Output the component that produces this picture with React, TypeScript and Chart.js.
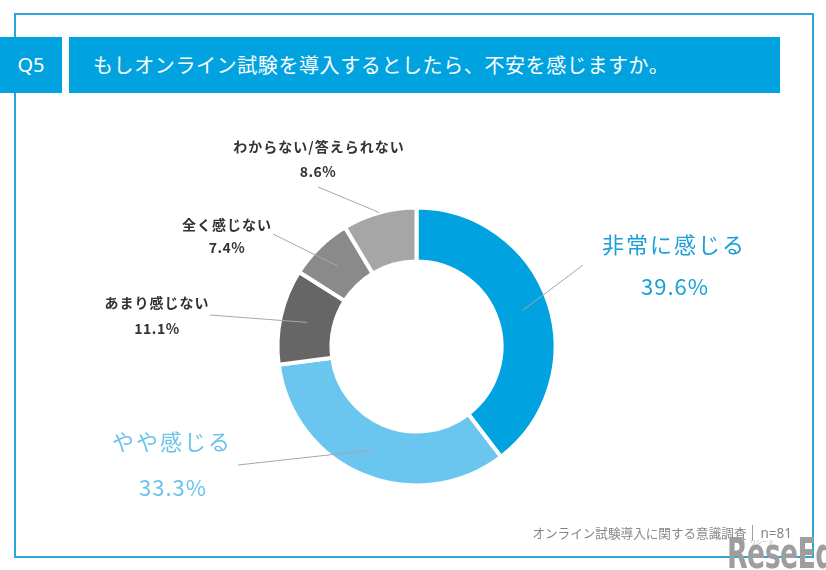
import React, { useEffect, useRef } from "react";
import { Chart, registerables } from "chart.js";

Chart.register(...registerables);

const categories = ["非常に感じる", "やや感じる", "あまり感じない", "全く感じない", "わからない/答えられない"];
const values = [39.6, 33.3, 11.1, 7.4, 8.6];
const pctLabels = ["39.6%", "33.3%", "11.1%", "7.4%", "8.6%"];
const sliceColors = ["#00a3e0", "#6bc6ef", "#666666", "#8a8a8a", "#a6a6a6"];

const titleText = "もしオンライン試験を導入するとしたら、不安を感じますか。";
const questionNo = "Q5";
const sourceMain = "オンライン試験導入に関する意識調査";
const sourceN = "n=81";

// label placement (annotation layout)
const labelLayout = [
  { nx: 674, ny: 245, px: 675, py: 287, lx: 583, ly: 265, frac: 0.5, big: true, color: "#1a9fd9" },
  { nx: 172, ny: 442, px: 173, py: 488, lx: 238, ly: 465, frac: 0.5, big: true, color: "#6cc3ea" },
  { nx: 157, ny: 303, px: 157, py: 329, lx: 210, ly: 315, frac: 0.5, big: false, color: "#333333" },
  { nx: 227, ny: 225, px: 227, py: 248, lx: 273, ly: 234, frac: 0.5, big: false, color: "#333333" },
  { nx: 319, ny: 147, px: 318, py: 172, lx: 318, ly: 187, frac: 1.0, big: false, color: "#333333" },
];

const FONT = '"Noto Sans CJK JP", "Noto Sans", sans-serif';

const labelPlugin = {
  id: "sliceLabels",
  afterDatasetsDraw(chart: any) {
    const ctx = chart.ctx as CanvasRenderingContext2D;
    const meta = chart.getDatasetMeta(0);
    meta.data.forEach((arc: any, i: number) => {
      const L = labelLayout[i];
      if (!L) return;
      const p = arc.getProps(["x", "y", "startAngle", "endAngle", "innerRadius", "outerRadius"], true);
      const mid = (p.startAngle + p.endAngle) / 2;
      const r = p.innerRadius + (p.outerRadius - p.innerRadius) * L.frac;
      const sx = p.x + Math.cos(mid) * r;
      const sy = p.y + Math.sin(mid) * r;
      ctx.save();
      ctx.strokeStyle = "#a8a8a8";
      ctx.lineWidth = 1;
      ctx.beginPath();
      ctx.moveTo(sx, sy);
      ctx.lineTo(L.lx, L.ly);
      ctx.stroke();
      ctx.fillStyle = L.color;
      ctx.textAlign = "center";
      ctx.textBaseline = "middle";
      if (L.big) {
        (ctx as any).letterSpacing = "2px";
        ctx.font = `400 22px ${FONT}`;
      } else {
        (ctx as any).letterSpacing = "1px";
        ctx.font = `700 14px ${FONT}`;
      }
      ctx.fillText(categories[i], L.nx, L.ny);
      (ctx as any).letterSpacing = L.big ? "1px" : "0.5px";
      ctx.fillText(pctLabels[i], L.px, L.py);
      ctx.restore();
    });
  },
};

export default function App() {
  const canvasRef = useRef<HTMLCanvasElement | null>(null);

  useEffect(() => {
    if (!canvasRef.current) return;
    const chart = new Chart(canvasRef.current, {
      type: "doughnut",
      data: {
        labels: categories,
        datasets: [
          {
            data: values,
            backgroundColor: sliceColors,
            borderColor: "#ffffff",
            borderWidth: 4,
          },
        ],
      },
      options: {
        responsive: false,
        animation: false,
        radius: 139,
        cutout: "61.2%",
        layout: { padding: { left: 280, right: 273, top: 210, bottom: 87 } },
        plugins: { legend: { display: false }, tooltip: { enabled: false } },
        events: [],
      } as any,
      plugins: [labelPlugin],
    });
    return () => chart.destroy();
  }, []);

  return (
    <div
      style={{
        position: "absolute",
        left: 0,
        top: 0,
        width: 826,
        height: 570,
        background: "#ffffff",
        overflow: "hidden",
        fontFamily: FONT,
      }}
    >
      <div
        style={{
          position: "absolute",
          left: 14,
          top: 13,
          width: 800,
          height: 545,
          border: "2px solid #2aa7da",
          boxSizing: "border-box",
        }}
      />
      <div
        style={{
          position: "absolute",
          left: 0,
          top: 37,
          width: 62,
          height: 56,
          background: "#00a3e0",
          color: "#fff",
          fontSize: 20,
          fontFamily: '"Noto Sans", sans-serif',
          lineHeight: "56px",
          textAlign: "center",
        }}
      >
        {questionNo}
      </div>
      <div
        style={{
          position: "absolute",
          left: 69,
          top: 37,
          width: 711,
          height: 56,
          background: "#00a3e0",
          color: "#fff",
          fontSize: 20,
          lineHeight: "56px",
          paddingLeft: 24,
          boxSizing: "border-box",
          letterSpacing: "0.6px",
          whiteSpace: "nowrap",
        }}
      >
        {titleText}
      </div>
      <canvas
        ref={canvasRef}
        width={826}
        height={570}
        style={{ position: "absolute", left: 0, top: 0, width: 826, height: 570 }}
      />
      <div
        style={{
          position: "absolute",
          right: 34,
          top: 522,
          color: "#858585",
          fontSize: 12.6,
          lineHeight: "22px",
          whiteSpace: "nowrap",
          display: "flex",
          alignItems: "center",
        }}
      >
        <span>{sourceMain}</span>
        <span
          style={{
            display: "inline-block",
            width: 1,
            height: 16,
            background: "#a0a0a0",
            margin: "0 7px 0 6px",
          }}
        />
        <span style={{ fontFamily: '"Noto Sans", sans-serif', fontSize: 13.5 }}>{sourceN}</span>
      </div>
      <div
        style={{
          position: "absolute",
          left: 727,
          top: 530,
          color: "#9e9e9e",
          fontSize: 42,
          fontWeight: 700,
          fontFamily: '"DejaVu Sans", sans-serif',
          letterSpacing: "-1px",
          whiteSpace: "nowrap",
          lineHeight: "48px",
          transform: "scaleX(0.64)",
          transformOrigin: "left top",
        }}
      >
        ReseEd
      </div>
      <div
        style={{
          position: "absolute",
          left: 750,
          top: 537,
          color: "#b0b0b0",
          fontSize: 6,
          whiteSpace: "nowrap",
        }}
      >
        リシード
      </div>
    </div>
  );
}
